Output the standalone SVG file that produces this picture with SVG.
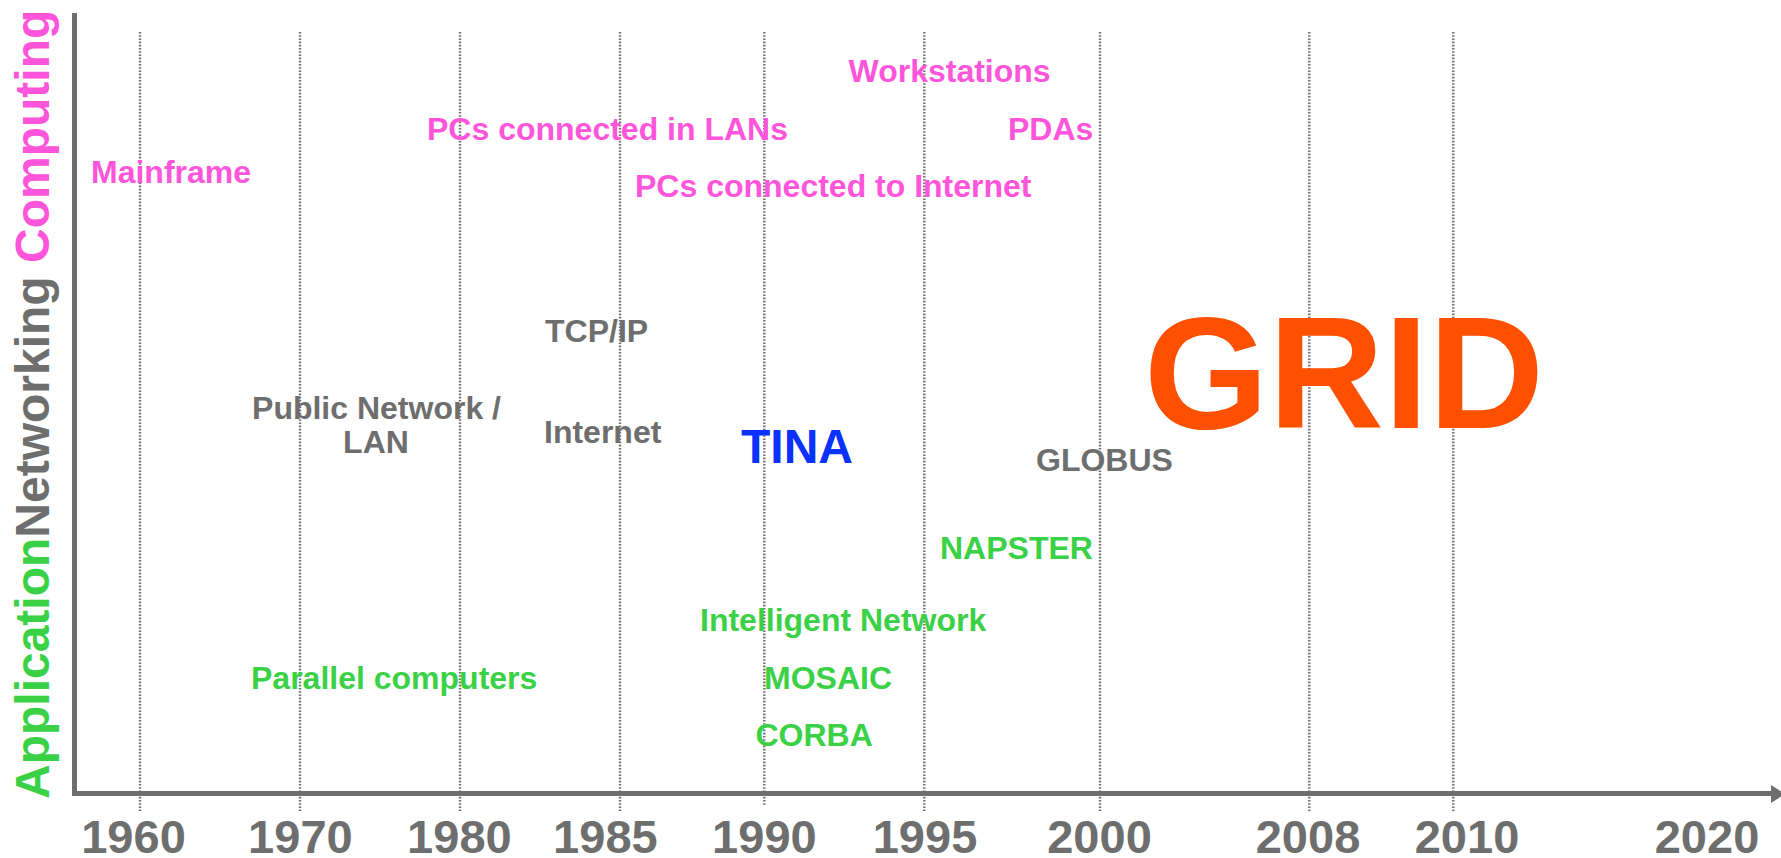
<svg xmlns="http://www.w3.org/2000/svg" width="1781" height="858" viewBox="0 0 1781 858">
  <style>
    text { font-family: "Liberation Sans", Arial, sans-serif; font-weight: bold; }
    .lbl { font-size: 32px; }
    .pink { fill: #FF55DA; }
    .gray { fill: #6E6E6E; }
    .green { fill: #3AD146; }
    .year { font-size: 47px; fill: #6E6E6E; text-anchor: middle; }
    .grid { stroke: #6E6E6E; stroke-width: 2.4; stroke-dasharray: 1.6 1.6; fill: none; }
    .axis { stroke: #6E6E6E; stroke-width: 5; fill: none; }
  </style>

  <g id="gridlines">
    <line class="grid" x1="140" y1="32" x2="140" y2="811"/>
    <line class="grid" x1="300" y1="32" x2="300" y2="811"/>
    <line class="grid" x1="460" y1="32" x2="460" y2="811"/>
    <line class="grid" x1="620" y1="32" x2="620" y2="811"/>
    <line class="grid" x1="764.3" y1="32" x2="764.3" y2="805"/>
    <line class="grid" x1="924.3" y1="32" x2="924.3" y2="811"/>
    <line class="grid" x1="1100" y1="32" x2="1100" y2="811"/>
    <line class="grid" x1="1309.3" y1="32" x2="1309.3" y2="811"/>
    <line class="grid" x1="1453.3" y1="32" x2="1453.3" y2="811"/>
  </g>

  <g id="connectors">
    <path class="axis" d="M74.5,13 V793.5 H1773"/>
    <polygon points="1771,785 1785,794 1771,803" fill="#6E6E6E"/>
  </g>

  <g id="axis-title">
    <text transform="translate(48.5,799) rotate(-90)" font-size="48"><tspan class="green">Application</tspan><tspan class="gray">Networking</tspan><tspan class="pink"> Computing</tspan></text>
  </g>

  <g id="years">
    <text class="year" x="133.5" y="853">1960</text>
    <text class="year" x="300.4" y="853">1970</text>
    <text class="year" x="459.4" y="853">1980</text>
    <text class="year" x="605.4" y="853">1985</text>
    <text class="year" x="764.4" y="853">1990</text>
    <text class="year" x="925" y="853">1995</text>
    <text class="year" x="1099.5" y="853">2000</text>
    <text class="year" x="1308" y="853">2008</text>
    <text class="year" x="1467" y="853">2010</text>
    <text class="year" x="1707" y="853">2020</text>
  </g>

  <g id="mainframe"><text class="lbl pink" x="91" y="183">Mainframe</text></g>
  <g id="workstations"><text class="lbl pink" x="848.5" y="82">Workstations</text></g>
  <g id="pcs-lans"><text class="lbl pink" x="427" y="140">PCs connected in LANs</text></g>
  <g id="pdas"><text class="lbl pink" x="1008" y="140">PDAs</text></g>
  <g id="pcs-internet"><text class="lbl pink" x="635" y="197">PCs connected to Internet</text></g>

  <g id="tcpip"><text class="lbl gray" x="545" y="342">TCP/IP</text></g>
  <g id="public-network"><text class="lbl gray" text-anchor="middle" x="376.5" y="419.3">Public Network /</text><text class="lbl gray" text-anchor="middle" x="376" y="452.7">LAN</text></g>
  <g id="internet"><text class="lbl gray" x="544" y="443.3">Internet</text></g>
  <g id="tina"><text x="741" y="463.3" font-size="48" fill="#0A32FF">TINA</text></g>
  <g id="globus"><text class="lbl gray" x="1036" y="471">GLOBUS</text></g>
  <g id="grid"><text x="1144" y="428" font-size="160" fill="#FF5000">GRID</text></g>

  <g id="napster"><text class="lbl green" x="940" y="559">NAPSTER</text></g>
  <g id="intelligent-network"><text class="lbl green" x="700" y="631">Intelligent Network</text></g>
  <g id="parallel"><text class="lbl green" x="251" y="689.3">Parallel computers</text></g>
  <g id="mosaic"><text class="lbl green" x="764" y="689.3">MOSAIC</text></g>
  <g id="corba"><text class="lbl green" x="755.5" y="745.7">CORBA</text></g>
</svg>
